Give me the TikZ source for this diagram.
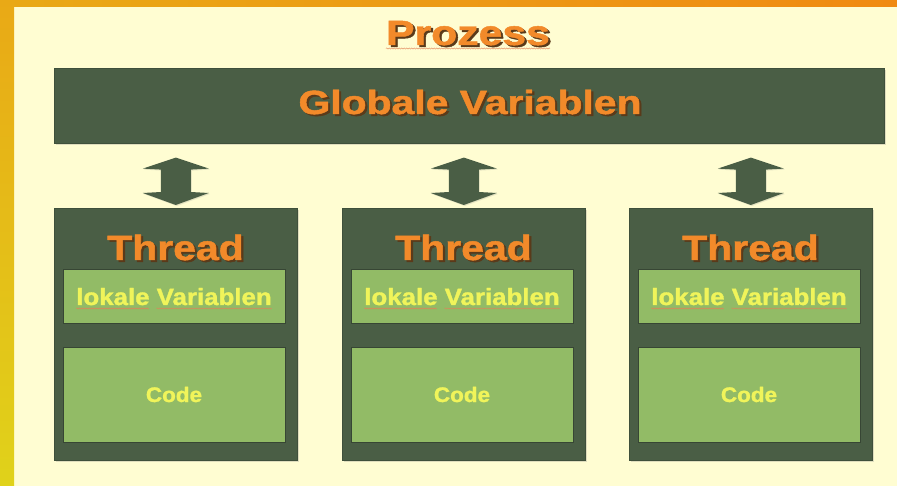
\documentclass[tikz,border=0pt]{standalone}
\usepackage{fontspec}
\setmainfont{Liberation Sans}[BoldFeatures={FakeBold=1.3}]
\usepackage{graphicx}
\usetikzlibrary{calc,shadows,decorations.pathmorphing}
\definecolor{cream}{HTML}{FFFDD2}
\definecolor{dkgreen}{HTML}{4A5E45}
\definecolor{ltgreen}{HTML}{92BB66}
\definecolor{orangetxt}{HTML}{F28A2A}
\definecolor{yellowtxt}{HTML}{F0F45A}
\definecolor{txtshadow}{HTML}{5A3A1A}
\definecolor{wavyred}{HTML}{D9642E}
\definecolor{stripA}{HTML}{E9A916}
\definecolor{stripB}{HTML}{F08A12}
\definecolor{stripC}{HTML}{E0D21A}
\newcommand\shtxt[3]{\scalebox{#1}[1]{\makebox[0pt][l]{\hspace{1.8pt}\raisebox{-1.8pt}{\color{#2}#3}}#3}}
\newcommand\plaintxt[2]{\scalebox{#1}[1]{#2}}
\tikzset{
  darkbox/.style={fill=dkgreen, draw=dkgreen!85!black, line width=0.6pt, inner sep=0pt, anchor=north west,
    drop shadow={shadow xshift=1.5pt, shadow yshift=-1.5pt, opacity=0.25}},
  lightbox/.style={fill=ltgreen, draw=dkgreen!75!black, line width=0.6pt, inner sep=0pt, anchor=north west},
  txt/.style={inner sep=0pt, anchor=base},
  orangetitle/.style={txt, text=orangetxt},
  yellowlabel/.style={txt, text=yellowtxt},
  wavyline/.style={draw=wavyred!80, line width=0.4pt, decorate, decoration={snake, amplitude=0.6pt, segment length=2.5pt}},
  dblarrow/.style={fill=dkgreen, drop shadow={shadow xshift=1pt, shadow yshift=-1pt, opacity=0.2}}
}
\begin{document}
\begin{tikzpicture}[x=1pt,y=-1pt]
\useasboundingbox (0,0) rectangle (897,486);
\fill[cream] (0,0) rectangle (897,486);
\shade[top color=stripA, bottom color=stripC] (0,0) rectangle (14,486);
\shade[left color=stripA, right color=stripB] (0,0) rectangle (897,7);

% title
\node[orangetitle, font=\bfseries\fontsize{35}{40}\selectfont] (pz) at (468,45) {\shtxt{1.22}{txtshadow}{Prozess}};
\draw[wavyline] ($(pz.base west)+(0,3.5)$) -- ($(pz.base east)+(0,3.5)$);

% global variables
\node[darkbox, minimum width=830pt, minimum height=75pt] (glob) at (54,68) {};
\node[orangetitle, font=\bfseries\fontsize{33.5}{38}\selectfont] (globtxt) at (470,114) {\shtxt{1.22}{txtshadow}{Globale Variablen}};

% threads
\foreach \i/\x in {1/54,2/342,3/629}{
  \node[darkbox, minimum width=243pt, minimum height=252pt] (t\i) at (\x,208) {};
  \node[lightbox, minimum width=222pt, minimum height=54pt] (lv\i) at (\x+9,269) {};
  \node[lightbox, minimum width=222pt, minimum height=95pt] (cd\i) at (\x+9,347) {};
  \node[orangetitle, font=\bfseries\fontsize{35}{40}\selectfont] (th\i) at (\x+121.5,260) {\shtxt{1.17}{txtshadow}{Thread}};
  \node[yellowlabel, font=\bfseries\fontsize{23.5}{27}\selectfont] (lvt\i) at (\x+120,305) {\plaintxt{1.1}{lokale Variablen}};
  \draw[wavyline] ($(lvt\i.base west)+(0,3.5)$) -- ($($(lvt\i.base west)!0.372!(lvt\i.base east)$)+(0,3.5)$);
  \draw[wavyline] ($($(lvt\i.base west)!0.41!(lvt\i.base east)$)+(0,3.5)$) -- ($(lvt\i.base east)+(0,3.5)$);
  \node[yellowlabel, font=\bfseries\fontsize{21}{24}\selectfont] (cdt\i) at (\x+120,402) {\plaintxt{1.07}{Code}};
  % double arrow between global box and thread box
  \coordinate (up\i) at ($(glob.south -| t\i.north)+(0,14)$);
  \coordinate (dn\i) at ($(t\i.north)+(0,-3)$);
  \fill[dblarrow] (up\i) -- ++(-33,11) -- ++(18,1) -- ($(dn\i)+(-15,-13)$) -- ++(-18,1) -- (dn\i)
     -- ++(33,-12) -- ++(-18,-1) -- ($(up\i)+(15,12)$) -- ++(18,-1) -- cycle;
}
\end{tikzpicture}
\end{document}
